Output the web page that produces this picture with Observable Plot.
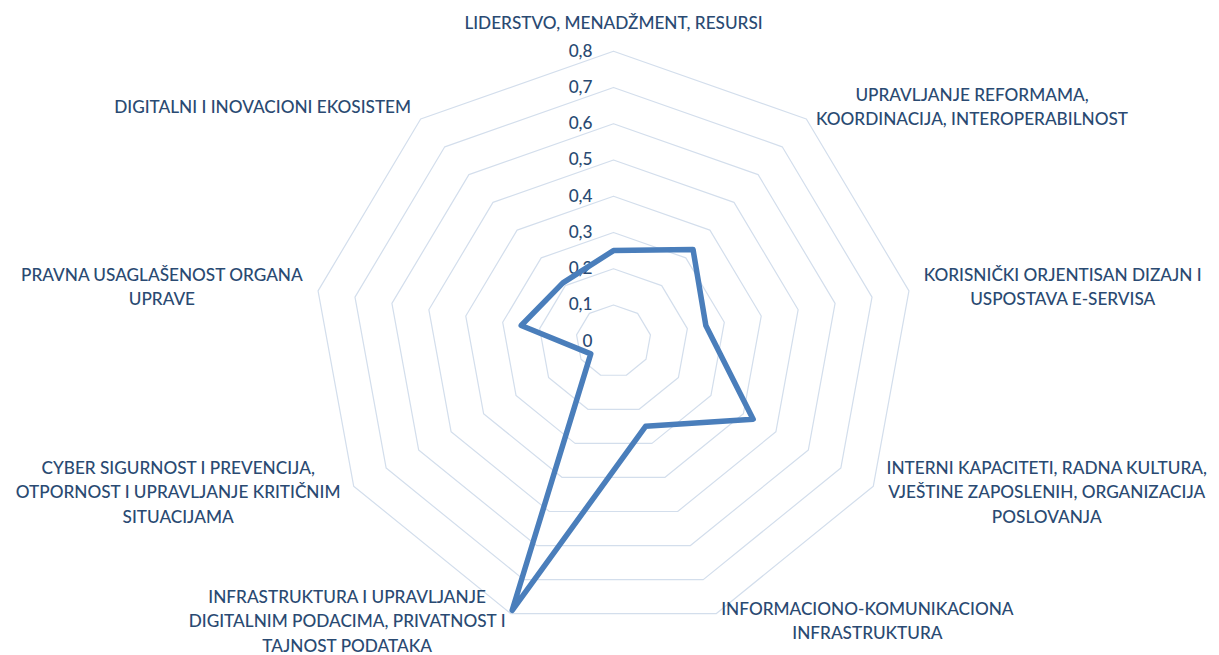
<!DOCTYPE html>
<html><head><meta charset="utf-8">
<script src="https://cdn.jsdelivr.net/npm/d3@7"></script>
<script src="https://cdn.jsdelivr.net/npm/@observablehq/plot@0.6"></script>
<style>html,body{margin:0;padding:0;background:#fff;} svg{display:block}</style>
</head><body><div id="chart"></div>
<script>
const categories = [
  "LIDERSTVO, MENADŽMENT, RESURSI",
  "UPRAVLJANJE REFORMAMA,\nKOORDINACIJA, INTEROPERABILNOST",
  "KORISNIČKI ORJENTISAN DIZAJN I\nUSPOSTAVA E-SERVISA",
  "INTERNI KAPACITETI, RADNA KULTURA,\nVJEŠTINE ZAPOSLENIH, ORGANIZACIJA\nPOSLOVANJA",
  "INFORMACIONO-KOMUNIKACIONA\nINFRASTRUKTURA",
  "INFRASTRUKTURA I UPRAVLJANJE\nDIGITALNIM PODACIMA, PRIVATNOST I\nTAJNOST PODATAKA",
  "CYBER SIGURNOST I PREVENCIJA,\nOTPORNOST I UPRAVLJANJE KRITIČNIM\nSITUACIJAMA",
  "PRAVNA USAGLAŠENOST ORGANA\nUPRAVE",
  "DIGITALNI I INOVACIONI EKOSISTEM"
];
const values = [0.25, 0.33, 0.25, 0.43, 0.25, 0.79, 0.07, 0.25, 0.21];
const ringLevels = [0.1, 0.2, 0.3, 0.4, 0.5, 0.6, 0.7, 0.8];
const tickValues = [0, 0.1, 0.2, 0.3, 0.4, 0.5, 0.6, 0.7, 0.8];
const tickLabels = ["0", "0,1", "0,2", "0,3", "0,4", "0,5", "0,6", "0,7", "0,8"];

const W = 1219, H = 655;
const n = categories.length;
const angle = i => 2 * Math.PI * i / n;
const FONT = "Lato";
const FS = 17.2;
const FW = 500;
const LH = 1.42;
const textColor = "#2a4a72";
const gridColor = "#d3deec";
const lineColor = "#4a7ebb";

const ringPts = ringLevels.flatMap(l => categories.map((c, i) => ({level: l, x: l * Math.sin(angle(i)), y: l * Math.cos(angle(i))})));
const dataPts = values.map((v, i) => ({cat: categories[i], x: v * Math.sin(angle(i)), y: v * Math.cos(angle(i))}));

const ctx = document.createElement("canvas").getContext("2d");
ctx.font = `${FW} ${FS}px ${FONT}`;
const maxW = s => Math.max(...s.split("\n").map(l => ctx.measureText(l).width));

const LR = 0.84;
const labelMarks = categories.map((c, i) => {
  const a = angle(i), s = Math.sin(a), co = Math.cos(a);
  const side = Math.abs(s) < 0.1 ? 0 : Math.sign(s);
  const top = side === 0 && co > 0;
  const bottom = co < -0.9;
  return Plot.text([{x: LR * s, y: LR * co, t: c}], {
    x: "x", y: "y", text: "t", textAnchor: "middle", lineAnchor: "middle",
    dx: side * maxW(c) / 2, dy: (top ? -FS * LH / 2 : 0) - (bottom ? 8 : 3),
    fill: textColor, fontSize: FS, fontWeight: FW, lineHeight: LH
  });
});

const chart = Plot.plot({
  width: W, height: H, margin: 0,
  style: {fontFamily: FONT, background: "#fff"},
  x: {domain: [-0.8, 0.8], range: [313, 913], axis: null},
  y: {domain: [-0.8, 0.8], range: [630.7, 50.7], axis: null},
  marks: [
    Plot.line(ringPts, {x: "x", y: "y", z: "level", curve: "linear-closed", stroke: gridColor, strokeWidth: 1.2}),
    Plot.text(tickValues, {x: 0, y: d => d, text: (d, i) => tickLabels[i], textAnchor: "end", dx: -21, fill: textColor, fontSize: FS, fontWeight: FW}),
    Plot.line(dataPts, {x: "x", y: "y", curve: "linear-closed", stroke: lineColor, strokeWidth: 5.5, strokeLinejoin: "round"}),
    ...labelMarks
  ]
});
document.getElementById("chart").appendChild(chart);
</script>
</body></html>
